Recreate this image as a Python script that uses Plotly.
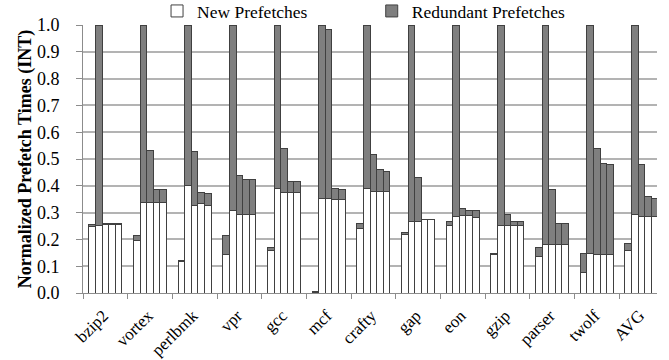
import plotly.graph_objects as go

# Benchmarks (INT) and five prefetch configurations per benchmark
categories = ["bzip2", "vortex", "perlbmk", "vpr", "gcc", "mcf", "crafty",
              "gap", "eon", "gzip", "parser", "twolf", "AVG"]

# Normalized new prefetches, one row per benchmark, five configurations each
new_prefetches = [
    [0.248, 0.252, 0.255, 0.255, 0.255],
    [0.196, 0.338, 0.338, 0.338, 0.338],
    [0.116, 0.400, 0.327, 0.333, 0.325],
    [0.143, 0.307, 0.294, 0.294, 0.294],
    [0.159, 0.391, 0.375, 0.375, 0.375],
    [0.003, 0.352, 0.352, 0.348, 0.348],
    [0.239, 0.389, 0.379, 0.379, 0.379],
    [0.217, 0.267, 0.267, 0.273, 0.273],
    [0.252, 0.286, 0.289, 0.288, 0.283],
    [0.143, 0.252, 0.252, 0.252, 0.252],
    [0.137, 0.180, 0.180, 0.180, 0.180],
    [0.075, 0.149, 0.143, 0.143, 0.143],
    [0.159, 0.294, 0.286, 0.286, 0.286],
]

# Normalized redundant prefetches stacked on top of the new ones
redundant_prefetches = [
    [0.007, 0.748, 0.003, 0.003, 0.003],
    [0.018, 0.662, 0.194, 0.047, 0.047],
    [0.006, 0.600, 0.201, 0.043, 0.045],
    [0.071, 0.693, 0.145, 0.128, 0.128],
    [0.009, 0.609, 0.163, 0.041, 0.041],
    [0.004, 0.648, 0.632, 0.043, 0.037],
    [0.022, 0.611, 0.139, 0.081, 0.074],
    [0.007, 0.733, 0.165, 0.003, 0.003],
    [0.015, 0.714, 0.028, 0.020, 0.025],
    [0.006, 0.748, 0.040, 0.015, 0.015],
    [0.034, 0.820, 0.208, 0.081, 0.081],
    [0.072, 0.851, 0.395, 0.341, 0.338],
    [0.024, 0.706, 0.195, 0.074, 0.068],
]

y_ticks = [round(0.1 * k, 1) for k in range(11)]

n_cfg = 5
bar_w = 0.148
font_family = "Liberation Serif"
edge = "#404040"
axis_gray = "#8c8c8c"

xs, new_y, red_y = [], [], []
for i, _ in enumerate(categories):
    for j in range(n_cfg):
        xs.append(i + (j - (n_cfg - 1) / 2) * bar_w)
        new_y.append(new_prefetches[i][j])
        red_y.append(redundant_prefetches[i][j])

fig = go.Figure()
fig.add_trace(go.Bar(
    x=xs, y=new_y, width=bar_w, name="New Prefetches", legend="legend",
    marker=dict(color="white", line=dict(color=edge, width=1)),
))
fig.add_trace(go.Bar(
    x=xs, y=red_y, width=bar_w, name="Redundant Prefetches", legend="legend2",
    marker=dict(color="#7f7f7f", line=dict(color=edge, width=1)),
))

legend_style = dict(
    orientation="h", xanchor="left", y=1.052, yanchor="middle",
    font=dict(size=17.5), bgcolor="rgba(0,0,0,0)", itemwidth=30,
)

fig.update_layout(
    width=669, height=360,
    barmode="stack",
    showlegend=True,
    plot_bgcolor="white", paper_bgcolor="white",
    margin=dict(l=83, r=12, t=25, b=67, autoexpand=False),
    font=dict(family=font_family, size=18, color="black"),
    legend=dict(x=0.129, **legend_style),
    legend2=dict(x=0.503, **legend_style),
    xaxis=dict(
        range=[-0.5, 12.35],
        tickmode="array",
        tickvals=list(range(len(categories))),
        ticktext=categories,
        tickangle=-45,
        tickfont=dict(size=17),
        ticks="",
        ticklabelstandoff=5,
        ticklabelshift=-2,
        showgrid=False,
        showline=True, linecolor=axis_gray, linewidth=1,
        zeroline=False,
        minor=dict(tick0=-0.5, dtick=1, ticks="outside", ticklen=5,
                   tickcolor=axis_gray, tickwidth=1, showgrid=False),
    ),
    yaxis=dict(
        range=[0, 1.0],
        tickmode="array",
        tickvals=y_ticks,
        ticktext=[f"{v:.1f}" for v in y_ticks],
        ticks="outside", ticklen=6, tickcolor=axis_gray,
        ticklabelstandoff=13,
        showgrid=True, gridcolor="#b3b3b3", gridwidth=1.5,
        showline=True, linecolor=axis_gray, linewidth=1,
        zeroline=False,
        title=dict(text="<b>Normalized Prefetch Times (INT)</b>",
                   font=dict(size=18), standoff=0),
    ),
)

fig.write_html("out.html")
